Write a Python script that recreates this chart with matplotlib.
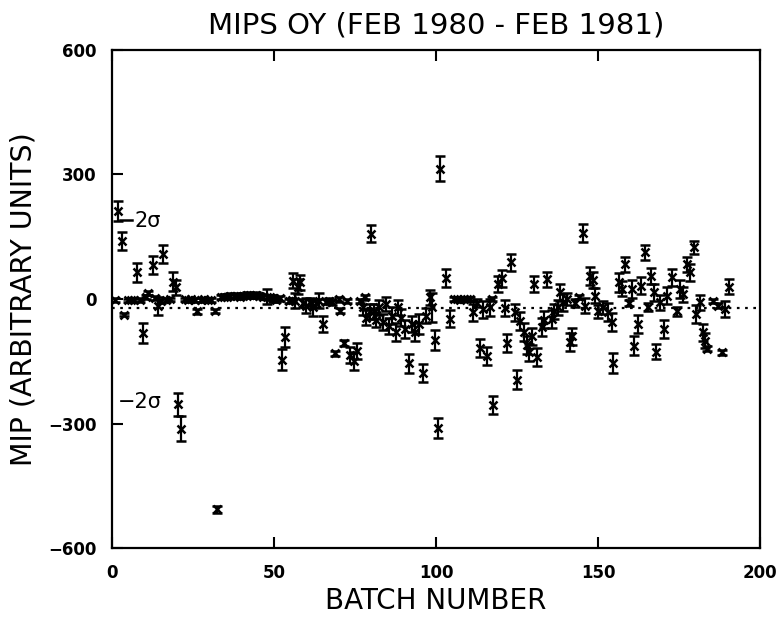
import numpy as np
import matplotlib.pyplot as plt

# batch number, MIP value, error
batch = [1.9, 3.0, 3.6, 1.0, 4.8, 5.8, 6.8, 7.8, 8.6, 9.5,
         10.5, 11.2, 12.6, 13.4, 14.2, 15.0, 15.8, 16.8, 17.8, 18.9,
         19.8, 20.5, 21.3, 22.5, 23.5, 24.5, 25.5, 26.2, 27.5, 28.5,
         29.5, 30.5, 31.8, 32.5, 33.5, 34.5, 35.5, 36.5, 37.5, 38.5,
         39.5, 40.5, 41.5, 42.5, 43.5, 44.5, 45.5, 46.5, 47.7, 48.7,
         49.7, 50.7, 51.7, 52.6, 53.4, 54.5, 55.5, 56.0, 56.5, 57.5,
         58.0, 59.0, 60.0, 61.0, 62.0, 63.0, 64.0, 65.2, 66.0, 67.0,
         68.0, 68.8, 70.0, 70.4, 71.6, 72.5, 73.5, 74.8, 75.5, 76.5,
         77.5, 78.0, 78.5, 79.5, 80.0, 80.8, 81.5, 82.5, 83.5, 84.5,
         85.5, 86.5, 87.5, 88.3, 89.2, 90.4, 91.8, 92.6, 93.5, 94.7,
         95.9, 97.0, 98.0, 98.7, 99.7, 100.7, 101.2, 103.0, 104.3, 105.5,
         106.5, 107.5, 108.5, 109.5, 110.5, 111.5, 112.5, 113.6, 114.5, 115.8,
         116.5, 117.2, 117.7, 119.2, 120.5, 121.2, 122.0, 123.2, 124.4, 124.9,
         126.0, 127.0, 128.0, 128.8, 129.5, 130.2, 131.0, 132.6, 133.3, 134.2,
         135.7, 136.5, 137.5, 138.3, 139.3, 140.5, 141.4, 142.0, 143.0, 144.0,
         145.3, 146.0, 147.5, 148.5, 149.0, 150.0, 151.5, 153.2, 154.2, 154.7,
         156.3, 157.4, 158.3, 159.4, 160.4, 161.0, 162.4, 163.3, 164.5, 165.5,
         166.3, 167.3, 168.0, 169.0, 170.2, 171.4, 172.7, 174.3, 175.3, 176.3,
         177.4, 178.4, 179.6, 180.2, 181.3, 182.5, 183.0, 183.5, 185.6, 187.0,
         188.2, 189.2, 190.4]
mip = [212, 140, -38, -2, -3, -2, -3, 64, -2, -82,
       4, 14, 82, 2, -16, -4, 108, -2, -1, 42,
       28, -253, -312, -1, -2, -1, -2, -30, -2, -1,
       -3, -2, -28, -506, 4, 6, 6, 8, 7, 8,
       6, 8, 10, 9, 8, 10, 8, 6, 6, 4,
       2, -2, 2, -146, -92, -4, -3, 44, -4, 30,
       40, -10, -16, -8, -20, -10, -4, -60, -6, -4,
       -8, -131, 0, -28, -105, -4, -135, -150, -125, -4,
       -20, 4, -45, -30, 157, -30, -50, -20, -55, -12,
       -65, -40, -80, -20, -45, -72, -155, -60, -80, -60,
       -178, -40, 4, -20, -98, -310, 313, 50, -47, 0,
       0, -2, 0, -1, 0, -32, -10, -118, -25, -137,
       -20, 0, -255, 36, 50, -22, -106, 88, -32, -194,
       -53, -80, -110, -128, -90, 36, -139, -68, -50, 48,
       -48, -30, -20, 16, -8, 0, -104, -90, -10, 4,
       159, -16, 56, 46, 8, -30, -20, -32, -56, -153,
       40, 25, 84, -10, 24, -112, -60, 32, 112, -20,
       55, 16, -127, -8, -72, 8, 52, -30, 24, 12,
       84, 64, 124, -36, -8, -80, -100, -120, -4, -16,
       -128, -24, 30]
err = [25, 22, 4, 4, 4, 4, 4, 22, 4, 24,
       5, 5, 22, 5, 22, 5, 22, 4, 4, 22,
       18, 28, 30, 4, 4, 4, 4, 5, 4, 4,
       4, 4, 5, 8, 5, 5, 5, 6, 5, 6,
       5, 6, 6, 6, 6, 6, 6, 6, 18, 6,
       8, 6, 6, 26, 24, 5, 5, 18, 18, 18,
       18, 10, 18, 10, 20, 10, 18, 20, 6, 6,
       6, 6, 6, 6, 7, 5, 20, 22, 20, 5,
       18, 5, 18, 18, 20, 18, 18, 18, 20, 18,
       20, 20, 22, 18, 20, 22, 22, 20, 22, 25,
       22, 18, 18, 35, 24, 24, 30, 22, 20, 4,
       4, 4, 4, 4, 4, 20, 10, 22, 20, 22,
       20, 5, 22, 20, 20, 20, 22, 20, 20, 22,
       22, 22, 22, 20, 20, 20, 22, 22, 20, 18,
       22, 18, 18, 20, 20, 15, 22, 20, 10, 5,
       22, 18, 22, 20, 18, 15, 15, 22, 22, 24,
       22, 18, 18, 8, 22, 22, 22, 20, 18, 10,
       20, 20, 18, 18, 22, 20, 20, 10, 22, 18,
       18, 20, 16, 22, 18, 20, 18, 6, 5, 6,
       6, 20, 18]

mean_level = -22
plus_2sigma = 190

fig = plt.figure(figsize=(7.78, 6.21), dpi=100)
ax = fig.add_axes([0.144, 0.117, 0.833, 0.803])

ax.errorbar(batch, mip, yerr=err, fmt='x', color='black', ms=6, mew=1.8,
            elinewidth=1.6, capsize=3.5, capthick=1.6)
ax.axhline(mean_level, color='black', ls=(0, (1.2, 2.5)), lw=1.6)
ax.plot([2.5, 6.2], [plus_2sigma, plus_2sigma], color='black', lw=1.8)

ax.text(7.0, 188, '2σ', fontsize=15, va='center', ha='left')
ax.text(1.9, -248, '−2σ', fontsize=15, va='center', ha='left')

ax.set_xlim(0, 200)
ax.set_ylim(-600, 600)
ax.set_xticks([0, 50, 100, 150, 200])
ax.set_yticks([-600, -300, 0, 300, 600])
ax.tick_params(direction='in', length=8, width=1.5, top=True, right=False,
               labelsize=12)
ax.tick_params(axis='x', pad=11)
ax.tick_params(axis='y', pad=11)
for lab in ax.get_xticklabels() + ax.get_yticklabels():
    lab.set_fontweight('bold')
for s in ax.spines.values():
    s.set_linewidth(1.6)

ax.set_title('MIPS OY (FEB 1980 - FEB 1981)', fontsize=21, pad=12)
ax.set_xlabel('BATCH NUMBER', fontsize=20, labelpad=4)
ax.set_ylabel('MIP (ARBITRARY UNITS)', fontsize=20.5, labelpad=8)

fig.savefig('out.png', dpi=100)
